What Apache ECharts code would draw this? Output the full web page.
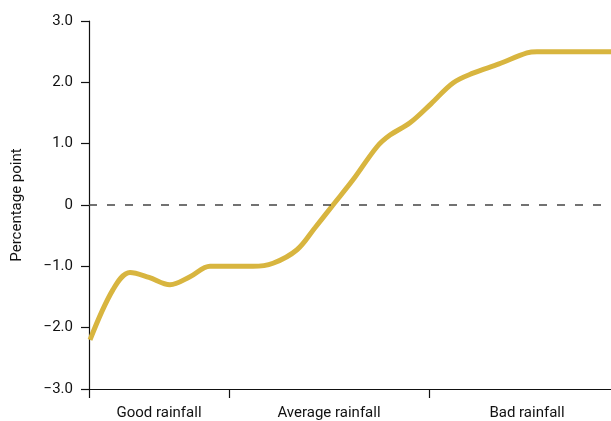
<!DOCTYPE html>
<html>
<head>
<meta charset="utf-8">
<script src="https://cdn.jsdelivr.net/npm/echarts@6/dist/echarts.min.js"></script>
<style>
  html, body { margin: 0; padding: 0; background: #fff; }
  #chart { width: 611px; height: 421px; }
</style>
</head>
<body>
<div id="chart"></div>
<script>
// Rainfall scenarios along the horizontal scale
const categories = ['Good rainfall', 'Average rainfall', 'Bad rainfall'];
const categoryBounds = [0, 140, 340, 536];

// Effect curve (percentage points) sampled along the rainfall scale
const xValues = [1, 24, 41, 60, 81, 101, 121, 145, 164, 184, 208, 226, 244, 264, 288, 301, 321, 342, 364, 384, 410, 438, 448, 485, 522];
const yValues = [-2.2, -1.38, -1.1, -1.18, -1.3, -1.17, -1.0, -1.0, -1.0, -0.95, -0.73, -0.37, 0.0, 0.41, 0.95, 1.14, 1.34, 1.65, 1.99, 2.15, 2.3, 2.48, 2.5, 2.5, 2.5];

// Vertical scale
const yTicks = [-3, -2, -1, 0, 1, 2, 3];
const yTickLabels = ['\u22123.0', '\u22122.0', '\u22121.0', '0', '1.0', '2.0', '3.0'];

const centers = categories.map((c, i) => (categoryBounds[i] + categoryBounds[i + 1]) / 2);
const FONT = "'Roboto', 'Liberation Sans', sans-serif";

const chart = echarts.init(document.getElementById('chart'), null, { renderer: 'canvas' });
chart.setOption({
  animation: false,
  backgroundColor: '#ffffff',
  grid: { left: 89, right: 0, top: 21, bottom: 32, containLabel: false },
  xAxis: {
    type: 'value',
    min: 0,
    max: 522,
    axisLine: { show: true, onZero: false, lineStyle: { color: '#111', width: 1.2 } },
    axisTick: {
      show: true,
      length: 9,
      customValues: categoryBounds.slice(0, 3),
      lineStyle: { color: '#111', width: 1.2 }
    },
    axisLabel: {
      show: true,
      customValues: centers,
      margin: 17,
      color: '#111',
      fontFamily: FONT,
      fontSize: 15,
      formatter: (v) => {
        const i = centers.indexOf(v);
        return i >= 0 ? categories[i] : '';
      }
    },
    splitLine: { show: false }
  },
  yAxis: {
    type: 'value',
    min: -3,
    max: 3,
    interval: 1,
    name: 'Percentage point',
    nameLocation: 'middle',
    nameGap: 64,
    nameRotate: 90,
    nameTextStyle: { color: '#111', fontFamily: FONT, fontSize: 15 },
    axisLine: { show: true, lineStyle: { color: '#111', width: 1.2 } },
    axisTick: { show: true, length: 8, lineStyle: { color: '#111', width: 1.2 } },
    axisLabel: {
      margin: 16,
      color: '#111',
      fontFamily: FONT,
      fontSize: 15,
      formatter: (v) => yTickLabels[yTicks.indexOf(Math.round(v))]
    },
    splitLine: { show: false }
  },
  series: [{
    type: 'line',
    data: xValues.map((x, i) => [x, yValues[i]]),
    smooth: 0.35,
    showSymbol: false,
    lineStyle: { color: '#D8B53F', width: 5 },
    markLine: {
      silent: true,
      symbol: ['none', 'none'],
      label: { show: false },
      lineStyle: { color: '#444', type: [8, 10], width: 1.6 },
      data: [{ yAxis: 0 }]
    },
    z: 3
  }]
});
</script>
</body>
</html>
